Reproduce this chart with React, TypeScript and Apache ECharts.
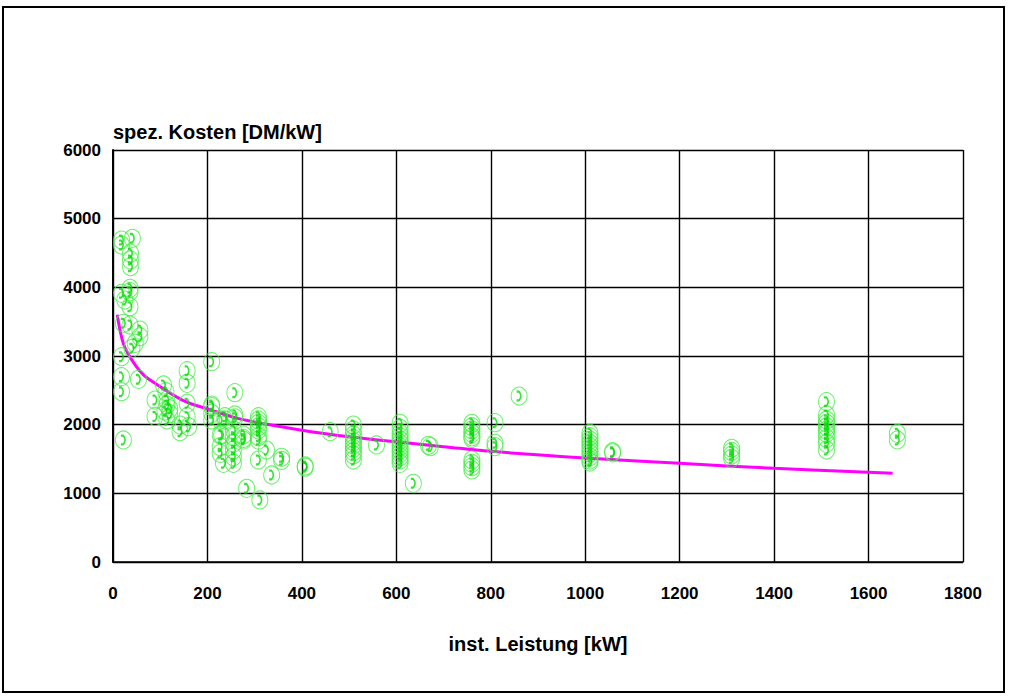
import React, { useEffect, useRef } from "react";
import * as echarts from "echarts";

// Axis ranges and tick spacing
const xTicks = { min: 0, max: 1800, step: 200 };
const yTicks = { min: 0, max: 6000, step: 1000 };

// Installed plants: [installed power kW, specific cost DM/kW]
const plantsSmall: [number, number][] = [
  [18, 4689], [18, 4616], [41, 4714], [37, 4495], [37, 4398], [37, 4301],
  [18, 3913], [36, 3986], [36, 3937], [25, 3815], [36, 3718], [22, 3476],
  [36, 3451], [57, 3378], [57, 3281], [47, 3185], [40, 3112], [18, 2990],
  [18, 2699], [54, 2660], [18, 2480], [22, 1777],
];

const plantsMid: [number, number][] = [
  [89, 2359], [89, 2120], [107, 2578], [112, 2480], [114, 2359], [114, 2286],
  [110, 2200], [114, 2068], [120, 2160], [120, 2230], [142, 1995], [142, 1897],
  [157, 2786], [157, 2602], [157, 2311], [157, 2116], [160, 1970],
  [209, 2917], [209, 2286], [209, 2262], [209, 2165], [209, 2068],
  [227, 2068], [227, 1849], [227, 1679], [227, 1583], [230, 1849], [234, 1437],
  [237, 2116], [237, 2068], [258, 2466], [258, 2141], [258, 2100],
  [255, 1922], [255, 1825], [255, 1728], [255, 1631], [255, 1534], [255, 1437],
  [276, 1849], [276, 1776], [276, 1800], [283, 1073], [311, 903],
  [308, 2116], [308, 2068], [308, 2019], [308, 1970], [308, 1922], [308, 1825],
  [308, 1776], [308, 1485], [325, 1631], [336, 1267], [357, 1525], [357, 1480],
  [407, 1398], [407, 1380],
];

const plantsLarge: [number, number][] = [
  [460, 1898],
  [509, 1995], [509, 1922], [509, 1849], [509, 1800], [509, 1752], [509, 1704],
  [509, 1655], [509, 1606], [509, 1558], [509, 1485],
  [558, 1704],
  [608, 2019], [608, 1947], [608, 1874], [608, 1825], [608, 1776], [608, 1728],
  [608, 1680], [608, 1631], [608, 1582], [608, 1534], [608, 1485], [608, 1437],
  [636, 1146], [668, 1700], [672, 1680],
  [760, 2019], [760, 1970], [760, 1922], [760, 1874], [760, 1825], [760, 1800],
  [760, 1485], [760, 1437], [760, 1388], [760, 1340],
  [809, 2029], [809, 1728], [809, 1680], [860, 2417],
  [1010, 1874], [1010, 1825], [1010, 1776], [1010, 1728], [1010, 1680],
  [1010, 1631], [1010, 1582], [1010, 1534], [1010, 1485], [1010, 1456],
  [1058, 1606], [1058, 1590],
  [1310, 1656], [1310, 1610], [1310, 1560], [1310, 1510],
  [1511, 2335], [1511, 2141], [1511, 2068], [1511, 2019], [1511, 1970],
  [1511, 1922], [1511, 1874], [1511, 1800], [1511, 1728], [1511, 1631],
  [1661, 1874], [1661, 1777],
];

// Trend curve sampled along its course
const trendKw = [9, 15, 22, 30, 43, 64, 92, 149, 205, 262, 300, 400, 500, 600, 700, 800, 1000, 1200, 1400, 1651];
const trendCost = [3600, 3370, 3180, 3060, 2910, 2730, 2590, 2350, 2220, 2095, 2040, 1920, 1825, 1750, 1680, 1612, 1515, 1437, 1365, 1292];

const yAxisTitle = "spez. Kosten [DM/kW]";
const xAxisTitle = "inst. Leistung [kW]";

// Handset glyph drawn inside every ring
const handsetPath =
  "path://M0,0 L3,0 C5,2 6,4 6,6 C6,8 5,10 3,12 L0,12 L0,9.5 L2.5,9.5 C3.5,8.5 4,7.5 4,6 C4,4.5 3.5,3.5 2.5,2.5 L0,2.5 Z";

const FONT = "Arial, 'Liberation Sans', sans-serif";

export default function App() {
  const ref = useRef<HTMLDivElement>(null);

  useEffect(() => {
    if (!ref.current) return;
    const chart = echarts.init(ref.current, undefined, { renderer: "svg" });
    const plants = [...plantsSmall, ...plantsMid, ...plantsLarge];
    const trend = trendKw.map((kw, i) => [kw, trendCost[i]]);
    const plain = (v: number) => String(v);

    chart.setOption({
      animation: false,
      backgroundColor: "#ffffff",
      textStyle: { fontFamily: FONT },
      graphic: [
        {
          type: "rect",
          shape: { x: 3, y: 7, width: 1001, height: 685 },
          style: { fill: "none", stroke: "#000", lineWidth: 2 },
          silent: true,
        },
      ],
      grid: { left: 113, right: 47, top: 150, bottom: 135, containLabel: false },
      xAxis: {
        type: "value",
        min: xTicks.min,
        max: xTicks.max,
        interval: xTicks.step,
        name: xAxisTitle,
        nameLocation: "middle",
        nameGap: 72,
        nameTextStyle: { fontSize: 20, fontWeight: "bold", color: "#000", fontFamily: FONT },
        axisLine: { show: true, lineStyle: { color: "#000", width: 1.5 } },
        axisTick: { show: false },
        axisLabel: { margin: 23, fontSize: 17, fontWeight: "bold", color: "#000", fontFamily: FONT, formatter: plain },
        splitLine: { show: true, lineStyle: { color: "#000", width: 1.4 } },
      },
      yAxis: {
        type: "value",
        min: yTicks.min,
        max: yTicks.max,
        interval: yTicks.step,
        name: yAxisTitle,
        nameLocation: "end",
        nameGap: 8,
        nameTextStyle: { fontSize: 20, fontWeight: "bold", color: "#000", align: "left", fontFamily: FONT },
        axisLine: { show: true, lineStyle: { color: "#000", width: 2 } },
        axisTick: { show: false },
        axisLabel: { margin: 12, fontSize: 17, fontWeight: "bold", color: "#000", fontFamily: FONT, formatter: plain },
        splitLine: { show: true, lineStyle: { color: "#000", width: 1.4 } },
      },
      series: [
        {
          type: "line",
          data: trend,
          smooth: 0.4,
          showSymbol: false,
          lineStyle: { color: "#ff00ff", width: 3 },
          z: 2,
        },
        {
          type: "scatter",
          data: plants,
          symbol: "circle",
          symbolSize: [16, 18],
          itemStyle: { color: "rgba(0,0,0,0)", borderColor: "#44ee44", borderWidth: 1 },
          z: 3,
        },
        {
          type: "scatter",
          data: plants,
          symbol: handsetPath,
          symbolSize: [5, 11],
          itemStyle: { color: "#00dd00" },
          z: 4,
        },
      ],
    });

    return () => chart.dispose();
  }, []);

  return (
    <div
      ref={ref}
      style={{ position: "fixed", left: 0, top: 0, width: 1010, height: 697 }}
    />
  );
}
